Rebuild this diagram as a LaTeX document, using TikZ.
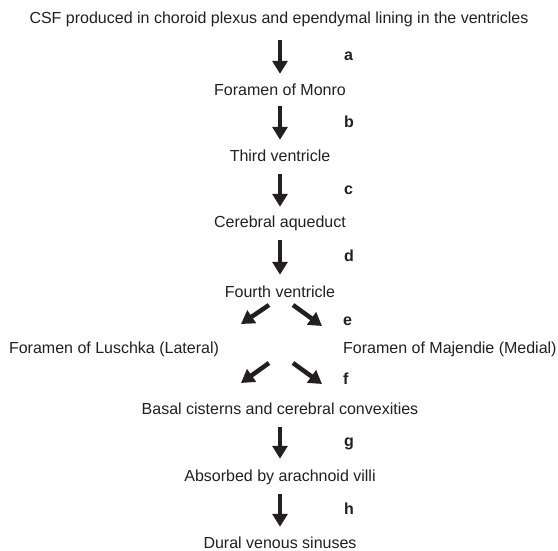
\documentclass[tikz,border=0pt]{standalone}
\usepackage{fontspec}
\setmainfont{Liberation Sans}
\usetikzlibrary{arrows.meta}
\definecolor{ink}{HTML}{231F20}
\begin{document}
\begin{tikzpicture}[x=1pt, y=-1pt,
  every node/.style={inner sep=0pt, text height=11.5pt, text depth=3.5pt,
                     font=\fontsize{16}{19}\selectfont, text=ink},
  stage/.style={anchor=base},
  steplabel/.style={anchor=mid west, font=\fontsize{16}{19}\selectfont\bfseries,
                    text height=, text depth=},
  flow/.style={draw=ink, line width=4.5pt,
               -{Triangle[length=13pt, width=15pt]},
               shorten <=9pt, shorten >=10.5pt}]
  \path[use as bounding box] (0,0) rectangle (558,551);

  % stages of the CSF pathway
  \node[stage] (csf)      at (279,23.5) {CSF produced in choroid plexus and ependymal lining in the ventricles};
  \node[stage] (monro)    at (280,96)   {Foramen of Monro};
  \node[stage] (third)    at (280,162)  {Third ventricle};
  \node[stage] (aqueduct) at (280,228)  {Cerebral aqueduct};
  \node[stage] (fourth)   at (280,297)  {Fourth ventricle};
  \node[stage] (luschka)  at (114,353)  {Foramen of Luschka (Lateral)};
  \node[stage, anchor=base west] (majendie) at (343,353) {Foramen of Majendie (Medial)};
  \node[stage] (basal)    at (280,414)  {Basal cisterns and cerebral convexities};
  \node[stage] (villi)    at (280,481)  {Absorbed by arachnoid villi};
  \node[stage] (dural)    at (280,548)  {Dural venous sinuses};

  % vertical flow arrows
  \draw[flow, shorten <=13pt] (csf.south -| monro) -- (monro);
  \draw[flow, shorten <=6.5pt] (monro) -- (third);
  \draw[flow, shorten <=8.5pt, shorten >=9.5pt] (third) -- (aqueduct);
  \draw[flow, shorten <=8.5pt] (aqueduct) -- (fourth);
  \draw[flow, shorten <=9.5pt] (basal) -- (villi);
  \draw[flow, shorten <=9.5pt, shorten >=9.5pt] (villi) -- (dural);

  % branching arrows
  \coordinate (eLs) at (269,305); \coordinate (eLt) at (241,324);
  \coordinate (eRs) at (293,305); \coordinate (eRt) at (322,326);
  \coordinate (fLs) at (269,363); \coordinate (fLt) at (241,383);
  \coordinate (fRs) at (293,363); \coordinate (fRt) at (322,384);
  \draw[flow, shorten <=0pt, shorten >=0pt] (eLs) -- (eLt);
  \draw[flow, shorten <=0pt, shorten >=0pt] (eRs) -- (eRt);
  \draw[flow, shorten <=0pt, shorten >=0pt] (fLs) -- (fLt);
  \draw[flow, shorten <=0pt, shorten >=0pt] (fRs) -- (fRt);

  % step letters
  \node[steplabel] (la) at (344,58)  {a};
  \node[steplabel] (lb) at (344,125) {b};
  \node[steplabel] (lc) at (344,192) {c};
  \node[steplabel] (ld) at (344,259) {d};
  \node[steplabel] (le) at (343,323) {e};
  \node[steplabel] (lf) at (343,382) {f};
  \node[steplabel] (lg) at (344,444) {g};
  \node[steplabel] (lh) at (344,512) {h};
\end{tikzpicture}
\end{document}
